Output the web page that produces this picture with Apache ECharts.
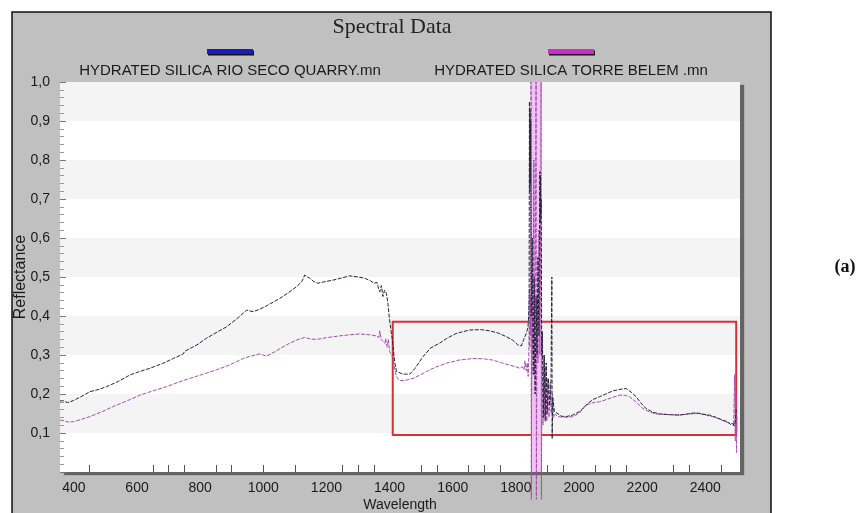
<!DOCTYPE html>
<html>
<head>
<meta charset="utf-8">
<script src="https://cdn.jsdelivr.net/npm/echarts@6/dist/echarts.min.js"></script>
<style>
  html, body { margin: 0; padding: 0; background: #fff; }
  #chart { width: 858px; height: 513px; }
</style>
</head>
<body>
<div id="chart"></div>
<script>
// series names (legend texts)
const quarryName = 'HYDRATED SILICA RIO SECO QUARRY.mn';
const belemName = 'HYDRATED SILICA TORRE BELEM .mn';

// wavelength (nm) / reflectance
const quarryWl = [356, 365, 380, 395, 420, 451, 480, 504, 540, 578, 610, 641, 680, 715, 745, 752, 757, 790, 820, 850,
    883, 915, 947, 968, 990, 1010, 1052, 1080, 1105, 1122, 1131, 1140, 1147, 1160, 1173, 1195, 1221, 1250, 1274, 1300,
    1321, 1340, 1350, 1360, 1365, 1369, 1374, 1379, 1384, 1390, 1395, 1400, 1405, 1409, 1416, 1422, 1427, 1442, 1464, 1480,
    1506, 1530, 1558, 1580, 1610, 1653, 1690, 1717, 1745, 1770, 1790, 1806, 1817, 1825, 1833, 1838, 1840,
    1842, 1843, 1844, 1845, 1846, 1847, 1849, 1852, 1855, 1858, 1861, 1864, 1867, 1870, 1873, 1876, 1877, 1878, 1879, 1880,
    1882, 1884, 1887, 1890, 1893, 1896, 1899, 1903, 1907, 1911, 1914, 1915, 1917, 1922, 1928,
    1945, 1959, 1980, 2002, 2015, 2028, 2045, 2065, 2085, 2107, 2130, 2149, 2165, 2181, 2195, 2212, 2235, 2255, 2290, 2318,
    2345, 2371, 2395, 2413, 2435, 2455, 2470, 2480, 2487, 2492, 2496, 2498];
const quarryRef = [0.182, 0.183, 0.178, 0.182, 0.192, 0.206, 0.212, 0.219, 0.232, 0.249, 0.258, 0.266, 0.278, 0.291, 0.302, 0.31, 0.306, 0.326, 0.343, 0.357,
    0.372, 0.392, 0.415, 0.411, 0.418, 0.426, 0.445, 0.46, 0.475, 0.488, 0.505, 0.5, 0.497, 0.488, 0.484, 0.488, 0.492, 0.498, 0.503, 0.5,
    0.497, 0.49, 0.484, 0.486, 0.47, 0.462, 0.478, 0.45, 0.466, 0.458, 0.43, 0.39, 0.36, 0.338, 0.283, 0.258, 0.253, 0.251, 0.251, 0.265,
    0.296, 0.318, 0.33, 0.342, 0.355, 0.364, 0.365, 0.362, 0.356, 0.347, 0.338, 0.326, 0.323, 0.34, 0.355, 0.37, 0.39,
    0.45, 0.95, 0.72, 0.93, 0.74, 0.9, 0.4, 0.6, 0.25, 0.5, 0.2, 0.45, 0.3, 0.55, 0.35, 0.77, 0.64, 0.76, 0.66, 0.7,
    0.3, 0.36, 0.14, 0.3, 0.13, 0.28, 0.15, 0.24, 0.17, 0.21, 0.5, 0.085, 0.19, 0.155, 0.15,
    0.143, 0.142, 0.146, 0.155, 0.165, 0.176, 0.186, 0.193, 0.2, 0.208, 0.212, 0.214, 0.205, 0.193, 0.178, 0.163, 0.153, 0.149, 0.147, 0.146,
    0.149, 0.152, 0.148, 0.146, 0.14, 0.133, 0.129, 0.122, 0.125, 0.118, 0.135, 0.16];

const belemWl = [356, 366, 380, 398, 420, 451, 490, 525, 570, 609, 650, 694, 730, 767, 810, 852, 895, 936, 960, 989,
    1000, 1010, 1040, 1073, 1105, 1131, 1150, 1168, 1205, 1242, 1275, 1305, 1335, 1358, 1366, 1369, 1373, 1379, 1385, 1388,
    1390, 1393, 1396, 1400, 1409, 1415, 1422, 1432, 1450, 1474, 1500, 1527, 1550, 1580, 1620, 1664, 1700, 1727, 1755, 1780,
    1800, 1812, 1820, 1826, 1829, 1833, 1836, 1839, 1841,
    1843, 1844, 1846, 1847, 1848, 1849, 1851, 1854, 1857, 1859, 1862, 1864, 1865, 1867, 1870, 1873, 1876, 1878, 1880, 1881,
    1883, 1886, 1889, 1892, 1895, 1898, 1901, 1905, 1909, 1912, 1916, 1920, 1925,
    1933, 1955, 1980, 2000, 2023, 2045, 2065, 2095, 2128, 2145, 2160, 2180, 2202, 2225, 2244, 2280, 2318, 2350, 2381, 2400,
    2423, 2445, 2466, 2478, 2487, 2490, 2493, 2495, 2497, 2499, 2500];
const belemRef = [0.133, 0.132, 0.128, 0.129, 0.134, 0.142, 0.155, 0.168, 0.183, 0.197, 0.208, 0.219, 0.23, 0.24, 0.251, 0.262, 0.275, 0.291, 0.297, 0.303,
    0.3, 0.297, 0.31, 0.326, 0.338, 0.345, 0.341, 0.34, 0.345, 0.349, 0.352, 0.354, 0.352, 0.349, 0.345, 0.362, 0.34, 0.338, 0.33, 0.342,
    0.326, 0.32, 0.34, 0.309, 0.296, 0.27, 0.244, 0.234, 0.235, 0.24, 0.25, 0.262, 0.27, 0.279, 0.287, 0.291, 0.29, 0.287, 0.28, 0.274,
    0.27, 0.266, 0.27, 0.262, 0.285, 0.26, 0.28, 0.245, 0.3,
    0.47, 0.32, 0.45, 0.35, 1.0, -0.07, 0.5, 0.3, 0.8, 0.25, 0.6, 1.0, -0.07, 0.45, 0.28, 0.62, 0.3, 0.5, 1.0, -0.07,
    0.35, 0.12, 0.3, 0.14, 0.27, 0.13, 0.24, 0.14, 0.23, 0.15, 0.2, 0.14, 0.148,
    0.142, 0.14, 0.142, 0.15, 0.172, 0.178, 0.18, 0.188, 0.197, 0.197, 0.193, 0.18, 0.163, 0.153, 0.149, 0.147, 0.146, 0.149, 0.15, 0.146,
    0.142, 0.136, 0.128, 0.125, 0.124, 0.118, 0.25, 0.08, 0.2, 0.05, 0.14];

// axis labels / ticks
const xLabels = [400, 600, 800, 1000, 1200, 1400, 1600, 1800, 2000, 2200, 2400];
const xTicks = [450, 650, 700, 750, 850, 900, 1000, 1100, 1250, 1300, 1350, 1500, 1550, 1650, 1700, 1750,
    1900, 1950, 2050, 2100, 2150, 2300, 2350, 2450];

// saturated noise band and the highlighted box (data coords)
const noiseBand = [1848, 1880, -0.07, 1.0];
const zoomBox = [1410, 2498, 0.095, 0.385];

(() => {
    const sans = 'Liberation Sans, Arial, sans-serif';

    function zip(xs, ys) {
        return xs.map((x, i) => [x, ys[i]]);
    }

    function init() {
        const chart = echarts.init(document.getElementById('chart'), null, { renderer: 'canvas' });
        chart.setOption({
            animation: false,
            graphic: [
                {
                    type: 'rect', z: -100, silent: true,
                    shape: { x: 12, y: 12, width: 759, height: 520 },
                    style: { fill: '#c0c0c0', stroke: '#111', lineWidth: 1.5 }
                },
                {
                    type: 'text', silent: true,
                    style: { text: 'Spectral Data', x: 392, y: 27, textAlign: 'center', textVerticalAlign: 'middle',
                        font: '22px "Liberation Serif", "Times New Roman", serif', fill: '#222' }
                },
                {
                    type: 'text', silent: true,
                    style: { text: quarryName, x: 230, y: 71, textAlign: 'center', textVerticalAlign: 'middle',
                        font: '15px ' + sans, fill: '#1a1a1a' }
                },
                {
                    type: 'text', silent: true,
                    style: { text: belemName, x: 571, y: 71, textAlign: 'center', textVerticalAlign: 'middle',
                        font: '15px ' + sans, fill: '#1a1a1a' }
                },
                {
                    type: 'text', silent: true,
                    style: { text: '(a)', x: 845, y: 267, textAlign: 'center', textVerticalAlign: 'middle',
                        font: 'bold 18px "Liberation Serif", serif', fill: '#111' }
                }
            ],
            legend: [
                {
                    data: [{ name: quarryName, itemStyle: { color: '#1c1cb8', shadowColor: '#111', shadowOffsetX: 1, shadowOffsetY: 1.5 } }],
                    left: 207, top: 49, padding: 0, icon: 'rect', itemWidth: 46, itemHeight: 5,
                    formatter: () => '', selectedMode: false
                },
                {
                    data: [{ name: belemName, itemStyle: { color: '#cc2ccc', shadowColor: '#111', shadowOffsetX: 1, shadowOffsetY: 1.5 } }],
                    left: 548, top: 49, padding: 0, icon: 'rect', itemWidth: 46, itemHeight: 5,
                    formatter: () => '', selectedMode: false
                }
            ],
            grid: {
                left: 60, right: 118, top: 82, bottom: 41,
                outerBoundsMode: 'none',
                show: true, backgroundColor: '#fff', borderWidth: 0,
                shadowColor: 'rgba(90,90,90,0.9)', shadowBlur: 1, shadowOffsetX: 4, shadowOffsetY: 3
            },
            xAxis: {
                type: 'value', min: 356, max: 2510,
                name: 'Wavelength', nameLocation: 'middle', nameGap: 26, nameMoveOverlap: false,
                nameTextStyle: { fontSize: 14, fontFamily: sans, color: '#1a1a1a' },
                axisLine: { show: false },
                axisTick: { show: true, inside: true, length: 7, customValues: xTicks, lineStyle: { color: '#555' } },
                axisLabel: {
                    customValues: xLabels, margin: 9, fontSize: 14, fontFamily: sans, color: '#1a1a1a',
                    formatter: (v) => String(Math.round(v))
                },
                splitLine: { show: false }
            },
            yAxis: {
                type: 'value', min: 0, max: 1, interval: 0.1,
                name: 'Reflectance', nameLocation: 'middle', nameGap: 31, nameMoveOverlap: false,
                nameTextStyle: { fontSize: 16, fontFamily: sans, color: '#1a1a1a' },
                axisLine: { show: false },
                axisTick: { show: true, inside: true, length: 6, lineStyle: { color: '#777' } },
                minorTick: { show: true, splitNumber: 5, length: 4, lineStyle: { color: '#999' } },
                axisLabel: {
                    margin: 10, fontSize: 14, fontFamily: sans, color: '#1a1a1a',
                    formatter: (v) => v === 0 ? '' : v.toFixed(1).replace('.', ',')
                },
                splitLine: { show: false },
                splitArea: { show: true, areaStyle: { color: ['#ffffff', '#f4f4f4'] } }
            },
            series: [
                {
                    name: quarryName, type: 'line', symbol: 'none', clip: false,
                    data: zip(quarryWl, quarryRef),
                    lineStyle: { width: 1, color: '#23233a', type: [4, 1.5] },
                    itemStyle: { color: '#23233a' },
                    z: 3,
                    markArea: {
                        silent: true,
                        itemStyle: { color: 'rgba(0,0,0,0)', borderColor: '#d3323a', borderWidth: 2 },
                        data: [[{ xAxis: zoomBox[0], yAxis: zoomBox[2] }, { xAxis: zoomBox[1], yAxis: zoomBox[3] }]]
                    }
                },
                {
                    name: belemName, type: 'line', symbol: 'none', clip: false,
                    data: zip(belemWl, belemRef),
                    lineStyle: { width: 1, color: '#a64dae', type: [4, 1.5] },
                    itemStyle: { color: '#a64dae' },
                    z: 2,
                    markArea: {
                        silent: true,
                        itemStyle: { color: 'rgba(238,190,242,0.9)' },
                        data: [[{ xAxis: noiseBand[0], yAxis: noiseBand[2] }, { xAxis: noiseBand[1], yAxis: noiseBand[3] }]]
                    }
                }
            ]
        });
    }

    window.onload = function () {
        init();
    };
})();
</script>
</body>
</html>
